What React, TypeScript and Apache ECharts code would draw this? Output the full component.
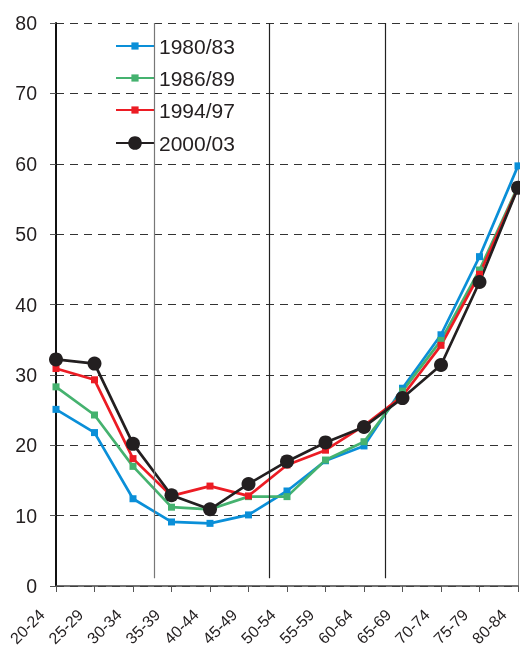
import React, { useEffect, useRef } from "react";
import * as echarts from "echarts";

const categories = ["20-24", "25-29", "30-34", "35-39", "40-44", "45-49", "50-54", "55-59", "60-64", "65-69", "70-74", "75-79", "80-84"];
const s1980 = [25.1, 21.8, 12.4, 9.1, 8.9, 10.1, 13.5, 17.8, 19.9, 28.1, 35.7, 46.8, 59.7];
const s1986 = [28.3, 24.3, 17.0, 11.2, 10.9, 12.7, 12.7, 17.9, 20.5, 27.7, 34.9, 44.9, 56.8];
const s1994 = [30.9, 29.3, 18.1, 12.8, 14.2, 12.8, 17.2, 19.3, 22.8, 27.0, 34.2, 44.3, 56.6];
const s2000 = [32.2, 31.6, 20.2, 12.9, 10.9, 14.5, 17.7, 20.4, 22.6, 26.7, 31.4, 43.2, 56.6];
const seriesNames = ["1980/83", "1986/89", "1994/97", "2000/03"];
const separatorPositions = [2.55, 5.55, 8.55];
const separatorColors = ["#777777", "#222222", "#222222"];

const FONT = "'Liberation Sans', Arial, sans-serif";
const TXT = "#231f20";

export default function App() {
  const ref = useRef<HTMLDivElement>(null);
  useEffect(() => {
    if (!ref.current) return;
    const chart = echarts.init(ref.current, null, { renderer: "svg" });
    const mk = (name: string, data: number[], color: string, symbol: string, size: number) => ({
      name,
      type: "line",
      data,
      xAxisIndex: 0,
      yAxisIndex: 0,
      symbol,
      symbolSize: size,
      showSymbol: true,
      lineStyle: { color, width: 2.7 },
      itemStyle: { color, borderWidth: 0 },
      z: 3,
    });
    const legendBase = {
      orient: "vertical",
      left: 110,
      itemWidth: 38,
      itemGap: 11,
      textStyle: { fontSize: 21, color: TXT, fontFamily: FONT },
    };
    chart.setOption({
      animation: false,
      textStyle: { fontFamily: FONT },
      grid: { left: 56, right: 2, top: 23, bottom: 62, containLabel: false, outerBoundsMode: "none" },
      legend: [
        { ...legendBase, top: 30.5, itemHeight: 9, data: seriesNames.slice(0, 3) },
        { ...legendBase, top: 127.5, itemHeight: 17, data: seriesNames.slice(3) },
      ],
      xAxis: [
        {
          type: "category",
          data: categories,
          boundaryGap: false,
          axisLine: { lineStyle: { color: "#444", width: 1.5 } },
          axisTick: { show: true, length: 6, alignWithLabel: true, lineStyle: { color: "#555" } },
          axisLabel: {
            rotate: 45,
            fontSize: 16,
            color: TXT,
            margin: 12,
            interval: 0,
            fontFamily: FONT,
            padding: [0, 20, 0, 0],
          },
          splitLine: { show: false },
        },
        {
          type: "value",
          min: 0,
          max: 12,
          show: false,
        },
      ],
      yAxis: [
        {
          type: "value",
          min: 0,
          max: 80,
          interval: 10,
          axisLine: { show: true, lineStyle: { color: "#111", width: 2 } },
          axisTick: { show: true, length: 6, lineStyle: { color: "#555" } },
          axisLabel: { fontSize: 19.5, color: TXT, margin: 19, fontFamily: FONT },
          splitLine: { show: true, lineStyle: { color: "#333", width: 1, type: [8, 6] } },
        },
        {
          type: "value",
          min: 0,
          max: 80,
          interval: 10,
          position: "right",
          axisLine: { show: true, lineStyle: { color: "#888", width: 1 } },
          axisTick: { show: false },
          axisLabel: { show: false },
          splitLine: { show: false },
        },
      ],
      series: [
        {
          name: "separators",
          type: "line",
          xAxisIndex: 1,
          yAxisIndex: 0,
          data: [],
          symbol: "none",
          silent: true,
          markLine: {
            silent: true,
            symbol: ["none", "none"],
            label: { show: false },
            data: separatorPositions.map((p, i) => [
              { coord: [p, 1.1], lineStyle: { color: separatorColors[i], width: 1.2, type: "solid" } },
              { coord: [p, 80] },
            ]),
          },
          z: 1,
        },
        mk(seriesNames[0], s1980, "#0a8fd8", "rect", 7),
        mk(seriesNames[1], s1986, "#45b26f", "rect", 7),
        mk(seriesNames[2], s1994, "#ec1c24", "rect", 7),
        mk(seriesNames[3], s2000, "#231f20", "circle", 14),
      ],
    });
    return () => chart.dispose();
  }, []);
  return <div ref={ref} style={{ position: "fixed", left: 0, top: 0, width: 520, height: 648 }} />;
}
